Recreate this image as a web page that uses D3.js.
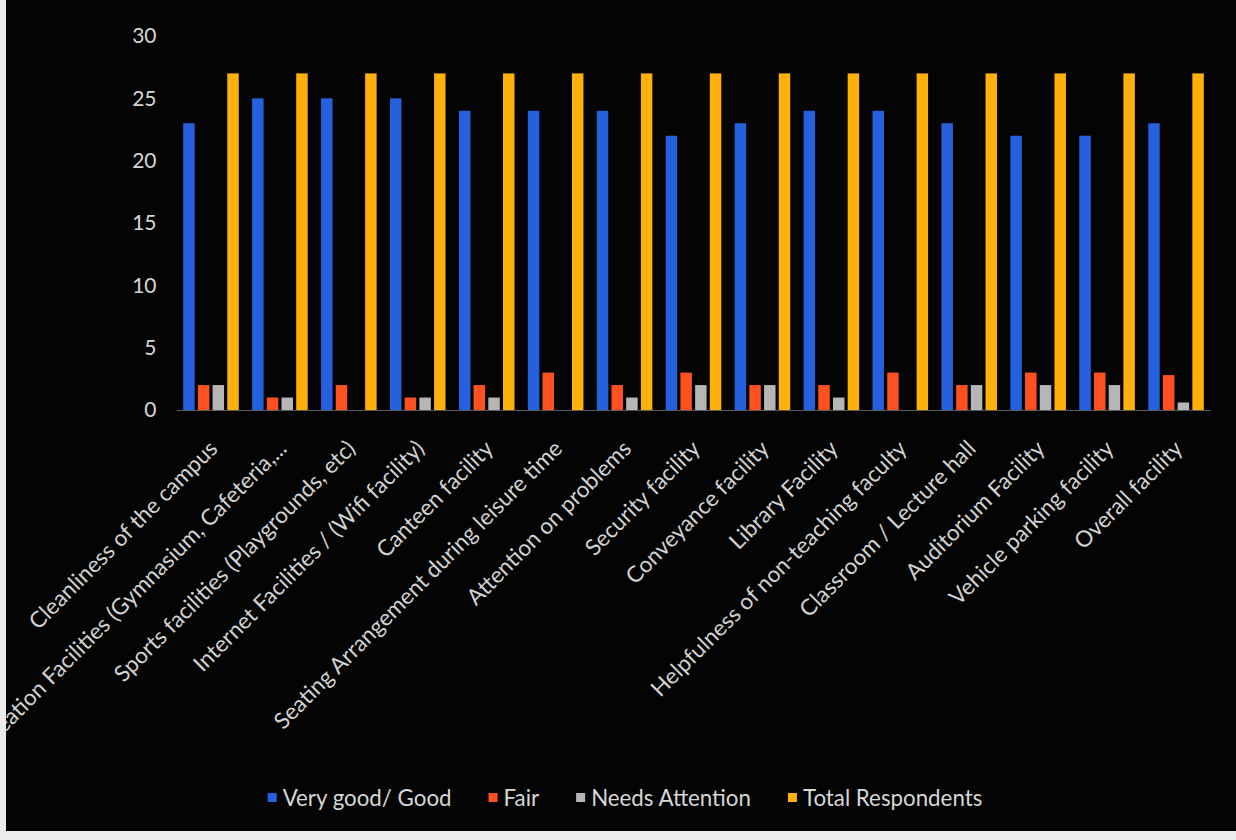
<!DOCTYPE html>
<html>
<head>
<meta charset="utf-8">
<script src="https://cdn.jsdelivr.net/npm/d3@7/dist/d3.min.js"></script>
<style>
  html, body { margin: 0; padding: 0; background: #ececec; }
  svg { display: block; }
  text { font-family: Lato, "Open Sans", sans-serif; }
</style>
</head>
<body>
<svg id="chart" width="1236" height="840"></svg>
<script>
const categories = [
  "Cleanliness of the campus",
  "Recreation Facilities (Gymnasium, Cafeteria,...",
  "Sports facilities (Playgrounds, etc)",
  "Internet Facilities / (Wifi facility)",
  "Canteen facility",
  "Seating Arrangement during leisure time",
  "Attention on problems",
  "Security facility",
  "Conveyance facility",
  "Library Facility",
  "Helpfulness of non-teaching faculty",
  "Classroom / Lecture hall",
  "Auditorium Facility",
  "Vehicle parking facility",
  "Overall facility"
];
const seriesNames = ["Very good/ Good", "Fair", "Needs Attention", "Total Respondents"];
const veryGood          = [23, 25, 25, 25, 24, 24, 24, 22, 23, 24, 24, 23, 22, 22, 23];
const fair              = [2, 1, 2, 1, 2, 3, 2, 3, 2, 2, 3, 2, 3, 3, 2.8];
const needsAttention    = [2, 1, 0, 1, 1, 0, 1, 2, 2, 1, 0, 2, 2, 2, 0.6];
const totalRespondents  = [27, 27, 27, 27, 27, 27, 27, 27, 27, 27, 27, 27, 27, 27, 27];
const yTicks = [0, 5, 10, 15, 20, 25, 30];
const seriesColors = ["#2560de", "#ff5020", "#b6b6b6", "#ffb10a"];

const seriesValues = [veryGood, fair, needsAttention, totalRespondents];
const rows = categories.map((c, i) => ({
  category: c,
  values: seriesNames.map((s, j) => ({ series: s, value: seriesValues[j][i], color: seriesColors[j] }))
}));

const W = 1236, H = 840;
const svg = d3.select("#chart");

// photo frame: black panel
svg.append("rect").attr("x", 6).attr("y", 0).attr("width", W - 6).attr("height", 831).attr("fill", "#040404");
svg.append("clipPath").attr("id", "panel")
  .append("rect").attr("x", 6).attr("y", 0).attr("width", W - 6).attr("height", 831);

const plot = { left: 176.5, right: 1210.5, top: 36, bottom: 410 };

const x0 = d3.scaleBand().domain(categories).range([plot.left, plot.right]).padding(0);
const x1 = d3.scaleBand().domain(seriesNames).range([0, x0.bandwidth()]).paddingInner(0.22).paddingOuter(0.455);
const y = d3.scaleLinear().domain([0, 30]).range([plot.bottom, plot.top]);

const root = svg.append("g").attr("clip-path", "url(#panel)");

// y axis
const yAxis = root.append("g")
  .attr("transform", `translate(${plot.left},0)`)
  .call(d3.axisLeft(y).tickValues(yTicks).tickSize(0).tickPadding(20));
yAxis.select(".domain").remove();
yAxis.selectAll("text").attr("fill", "#d6d6d6").style("font-size", "21px").style("font-family", "Lato, sans-serif");

// bars
const groups = root.append("g").selectAll("g")
  .data(rows).join("g")
  .attr("transform", d => `translate(${x0(d.category)},0)`);
groups.selectAll("rect")
  .data(d => d.values).join("rect")
  .attr("x", d => x1(d.series))
  .attr("width", x1.bandwidth())
  .attr("y", d => y(d.value))
  .attr("height", d => y(0) - y(d.value))
  .attr("fill", d => d.color);

// x axis
const xAxis = root.append("g")
  .attr("transform", `translate(0,${plot.bottom})`)
  .call(d3.axisBottom(x0).tickSize(0));
xAxis.select(".domain").attr("stroke", "#5a5a5a").attr("stroke-width", 1.2);
xAxis.selectAll("text")
  .attr("y", 0).attr("dy", 0).attr("x", 0)
  .attr("text-anchor", "end")
  .attr("transform", "translate(8,40) rotate(-45)")
  .attr("fill", "#d2d2d2")
  .style("font-size", "22.5px")
  .style("font-family", "Lato, sans-serif");

// legend
const legend = root.append("g");
const items = legend.selectAll("g").data(seriesNames).join("g");
items.append("rect").attr("width", 9).attr("height", 9).attr("y", -5)
  .attr("fill", (d, i) => seriesColors[i]);
items.append("text").attr("x", 15).attr("dy", "0.35em")
  .attr("fill", "#d6d6d6").style("font-size", "22.3px").text(d => d);
const gap = 37;
let cx = 0;
const offsets = [];
items.each(function () {
  offsets.push(cx);
  const w = this.querySelector("text").getComputedTextLength();
  cx += 15 + w + gap;
});
const total = cx - gap;
const startX = 625 - total / 2;
items.attr("transform", (d, i) => `translate(${startX + offsets[i]},798)`);
</script>
</body>
</html>
